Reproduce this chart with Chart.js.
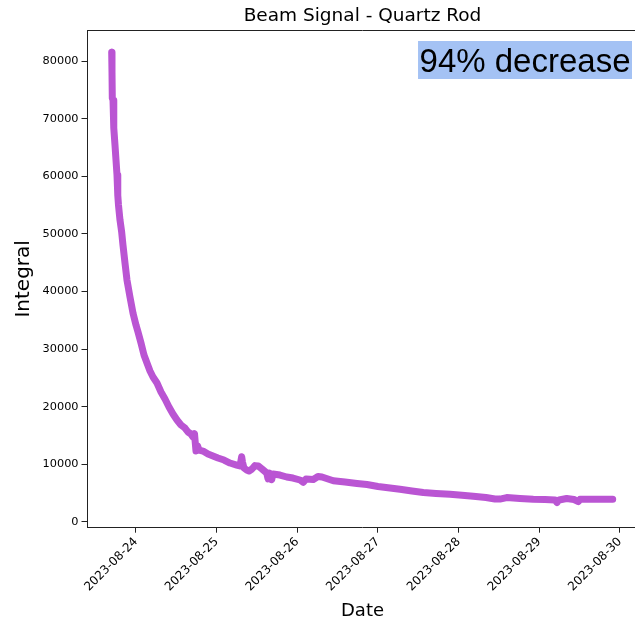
<!DOCTYPE html>
<html><head><meta charset="utf-8">
<script src="https://cdn.jsdelivr.net/npm/chart.js@4.4.0/dist/chart.umd.min.js"></script>
<style>
html,body{margin:0;padding:0;background:#fff;overflow:hidden;width:635px;height:621px}
#wrap{width:640px;height:621px}
</style>
</head><body><div id="wrap"><canvas id="c" width="640" height="621"></canvas></div>
<script>
// ---- data ----
const chartTitle = 'Beam Signal - Quartz Rod';
const xTitle = 'Date';
const yTitle = 'Integral';
const annotationText = '94% decrease';
// elapsed hours since 2023-08-24 00:00
const hours = [
  -7.23, -7.14, -7.05, -6.84, -6.61, -6.25, -5.95, -5.65, -5.42, -5.21,
  -4.76, -4.26, -3.87, -3.27, -2.68, -1.79, -0.89, 0.00, 0.60, 1.49,
  2.38, 3.27, 4.17, 5.06, 6.25, 7.44, 8.63, 9.82, 11.01, 12.20,
  13.39, 14.58, 15.47, 16.37, 16.96, 17.41, 17.85, 18.30, 18.75, 19.94,
  21.43, 22.91, 24.40, 26.19, 27.97, 29.97, 30.95, 31.45, 31.69, 32.14,
  32.94, 33.63, 34.52, 35.41, 36.40, 37.50, 38.90, 39.29, 39.73, 40.38,
  40.77, 42.85, 44.85, 46.72, 48.80, 49.79, 50.59, 52.76, 54.16, 55.35,
  58.72, 62.20, 65.77, 68.74, 72.02, 75.59, 78.56, 82.13, 85.50, 89.28,
  93.44, 97.01, 100.37, 104.15, 106.83, 108.32, 110.32, 114.27, 118.23, 121.71,
  124.69, 125.28, 125.88, 128.17, 130.34, 131.62, 132.13, 135.10, 138.08, 141.86
];
const integral = [
  81600, 78150, 73600, 73250, 68400, 65450, 62850, 60250, 56750, 55030,
  52420, 50330, 48080, 44950, 42000, 39050, 36230, 34180, 32960, 31050,
  28970, 27580, 26190, 25140, 24100, 22540, 21320, 19930, 18710, 17670,
  16800, 16280, 15590, 15240, 14720, 15300, 12300, 13200, 12460, 12280,
  11760, 11420, 11070, 10720, 10200, 9850, 9680, 11300, 10370, 9330,
  8980, 8810, 9160, 9750, 9680, 9160, 8460, 7450, 8460, 7300,
  8290, 8110, 7770, 7590, 7250, 6850, 7420, 7330, 7850, 7770,
  7120, 6900, 6640, 6460, 6120, 5860, 5630, 5330, 5070, 4900,
  4760, 4590, 4410, 4200, 3940, 3940, 4200, 4030, 3890, 3860,
  3770, 3350, 3770, 4030, 3860, 3500, 3890, 3890, 3890, 3890
];
const dateTickLabels = ['2023-08-24','2023-08-25','2023-08-26','2023-08-27','2023-08-28','2023-08-29','2023-08-30'];
const yTickValues = [0, 10000, 20000, 30000, 40000, 50000, 60000, 70000, 80000];
const xRange = [-14.43, 149.24];
const yRange = [-1040, 85450];

// ---- styles ----
const lineColor = '#ba55d3';
const axisColor = '#222';
const FONT = "'DejaVu Sans', sans-serif";

const points = hours.map((h, i) => ({x: h, y: integral[i]}));
const xTickValues = dateTickLabels.map((d, i) => i * 24);

const framePlugin = {
  id: 'frame',
  afterDraw(chart) {
    const {ctx, chartArea: a} = chart;
    ctx.save();
    ctx.strokeStyle = axisColor;
    ctx.lineWidth = 1;
    ctx.beginPath();
    ctx.moveTo(a.left, a.top + 0.5);
    ctx.lineTo(a.right, a.top + 0.5);
    ctx.stroke();
    // title
    ctx.fillStyle = '#000';
    ctx.font = "18.5px " + FONT;
    ctx.textAlign = 'center';
    ctx.textBaseline = 'alphabetic';
    ctx.fillText(chartTitle, (a.left + a.right) / 2, a.top - 9);
    // annotation box
    ctx.font = "33px 'Liberation Sans', Arial, sans-serif";
    const w = ctx.measureText(annotationText).width;
    const right = a.right - 5.5;
    const top = a.top + 11;
    ctx.fillStyle = '#a4c2f4';
    ctx.fillRect(right - w - 3, top, w + 3, 38);
    ctx.fillStyle = '#000';
    ctx.textAlign = 'right';
    ctx.fillText(annotationText, right - 1.5, top + 30.5);
    ctx.restore();
  }
};

new Chart(document.getElementById('c'), {
  type: 'line',
  data: {
    datasets: [{
      data: points,
      borderColor: lineColor,
      backgroundColor: lineColor,
      borderWidth: 7,
      pointRadius: 0,
      tension: 0,
      borderJoinStyle: 'round',
      borderCapStyle: 'round',
      fill: false
    }]
  },
  options: {
    responsive: false,
    animation: false,
    devicePixelRatio: 1,
    layout: {padding: {top: 30, right: 2.5, left: 0, bottom: 0}},
    plugins: {legend: {display: false}, tooltip: {enabled: false}, title: {display: false}},
    scales: {
      x: {
        type: 'linear',
        min: xRange[0], max: xRange[1],
        afterBuildTicks(s) { s.ticks = xTickValues.map(v => ({value: v})); },
        afterFit(s) { s.height = 93.3; },
        grid: {display: true, drawOnChartArea: false, drawTicks: true, tickLength: 5, color: axisColor},
        border: {display: true, color: axisColor, width: 1},
        ticks: {
          autoSkip: false, maxRotation: 45, minRotation: 45, padding: 2,
          color: '#000', font: {family: FONT, size: 12},
          callback(v) { const i = Math.round(v / 24); return dateTickLabels[i] ?? ''; }
        },
        title: {display: true, text: xTitle, color: '#000', font: {family: FONT, size: 18}, padding: {top: 0, bottom: -1}}
      },
      y: {
        type: 'linear',
        min: yRange[0], max: yRange[1],
        afterBuildTicks(s) { s.ticks = yTickValues.map(v => ({value: v})); },
        afterFit(s) { s.width = 87.5; },
        grid: {display: true, drawOnChartArea: false, drawTicks: true, tickLength: 6, color: axisColor},
        border: {display: true, color: axisColor, width: 1},
        ticks: {
          autoSkip: false, padding: 3, color: '#000', font: {family: FONT, size: 11.3},
          callback(v) { return String(v); }
        },
        title: {display: true, text: yTitle, color: '#000', font: {family: FONT, size: 20}, padding: {top: 12, bottom: 0}}
      }
    }
  },
  plugins: [framePlugin]
});
</script>
</body></html>
